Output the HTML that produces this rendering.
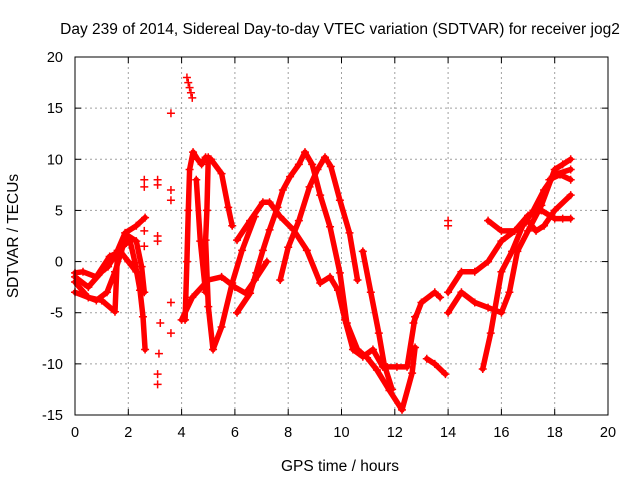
<!DOCTYPE html>
<html><head><meta charset="utf-8"><style>
body{margin:0;background:#fff}
svg{display:block;font-family:"Liberation Sans",sans-serif}
</style></head><body>
<svg id="chart" width="640" height="480">
<text x="340" y="34" text-anchor="middle" font-size="15.5">Day 239 of 2014, Sidereal Day-to-day VTEC variation (SDTVAR) for receiver jog2</text>
<text x="340" y="471" text-anchor="middle" font-size="15.5">GPS time / hours</text>
<text x="18" y="236" text-anchor="middle" font-size="15.5" transform="rotate(-90 18 236)">SDTVAR / TECUs</text>
<g id="grid"></g><g id="series"></g><g id="axes"></g>
</svg>
<script>
const xTicks=[0,2,4,6,8,10,12,14,16,18,20];
const yTicks=[-15,-10,-5,0,5,10,15,20];
const track1=[[0,-1.5],[0.5,-2.5],[1,-1],[1.24,-0.5],[1.6,1],[2.06,2.1],[2.25,-0.1],[2.44,-2.8],[2.55,-5.4],[2.63,-8.6]];
const track2=[[0,-2],[0.5,-3.5],[1,-3.8],[1.5,-4.9],[1.6,1.1],[1.88,2.8],[2.3,3.5],[2.63,4.3]];
const track3=[[0,-3],[0.5,-3.5],[0.8,-3.8],[1.2,-3],[1.5,-1],[1.8,1.5],[2,2.5],[2.3,2],[2.5,-0.5],[2.6,-3]];
const track4=[[0,-1.1],[0.3,-1],[0.8,-1.5],[1.3,0.5],[1.7,1],[2,0],[2.3,-1]];
const track5=[[4.13,-5.7],[4.2,0],[4.25,5],[4.3,9],[4.43,10.7],[4.6,10],[4.75,9.5],[4.9,10.2],[5.1,10],[5.5,8.6],[5.75,5.3],[5.9,3.5]];
const track6=[[5,10.2],[4.95,5],[4.9,2.1],[5,-4.4],[5.18,-8.6],[5.5,-6.4],[5.9,-2.1],[6.27,1.1],[6.75,4.4]];
const track7=[[4,-5.7],[4.4,-3.5],[5,-1.8],[5.5,-1.5],[6,-2.5],[6.4,-3.1],[6.75,-1.8],[7.2,0]];
const track8=[[4.55,8],[4.7,2],[4.9,-3]];
const trackA=[[6.08,-5],[6.57,-3.1],[6.8,-1.1],[7.05,1.1],[7.3,3.1],[7.6,5.3],[7.8,7],[8.07,8.3],[8.4,9.5],[8.63,10.7],[8.9,9.5],[9.2,6.5],[9.57,3.4],[9.94,-1.1],[10.2,-6],[10.6,-8.6],[10.96,-9.4],[11.33,-10.6],[11.8,-12.6],[12.27,-14.5],[12.65,-10.9],[12.76,-8.4]];
const trackB=[[7.7,-1.8],[8,1.4],[8.4,4],[8.8,7.3],[9.1,9],[9.38,10.2],[9.6,9.3],[9.94,6],[10.3,2.8],[10.6,-1.8]];
const trackC=[[10.8,1],[11.1,-3],[11.4,-7],[11.6,-10],[11.9,-12.5]];
const trackD=[[6.08,2.1],[6.57,4],[7.05,5.8],[7.3,5.8],[7.7,4.4],[8.2,3.1],[8.7,1.1],[9.2,-2.1],[9.57,-1.5],[9.87,-2.8],[10.13,-5.7],[10.43,-8.6],[10.8,-9.3],[11.18,-8.6],[11.55,-10.3],[12.08,-10.3],[12.46,-10.3],[12.76,-5.4]];
const track9=[[12.7,-6],[13,-4],[13.5,-3],[13.7,-3.5]];
const track10=[[13.2,-9.5],[13.5,-10],[13.9,-11]];
const track11=[[14,-3],[14.5,-1],[15,-1],[15.5,0],[16,2],[16.5,3],[17,4.5],[17.5,5],[18,4.2],[18.3,4.2],[18.6,4.2]];
const track12=[[14,-5],[14.5,-3],[15,-4],[15.5,-4.5],[16,-5],[16.3,-3],[16.6,1],[17,3],[17.5,5.5],[18,9],[18.3,9.5],[18.6,10]];
const track13=[[15.3,-10.5],[15.6,-7],[16,-1],[16.4,1],[16.8,3.5],[17.2,5],[17.6,7],[18,8.5],[18.6,9]];
const track14=[[15.5,4],[16,3],[16.5,3],[17,4],[17.3,3],[17.6,3.5],[18,5],[18.6,6.5]];
const track15=[[17.8,8],[18.2,8.5],[18.6,8]];
const scatter=[[2.6,8],[2.6,7.3],[2.6,3],[2.6,1.5],[3.1,8],[3.1,7.5],[3.1,2.5],[3.1,2],[3.2,-6],[3.15,-9],[3.1,-11],[3.1,-12],[3.6,14.5],[3.6,7],[3.6,6],[3.6,-4],[3.6,-7],[4.2,18],[4.25,17.5],[4.3,17],[4.4,16],[4.35,16.5],[14,4],[14,3.5]];
const tracks=[track1,track2,track3,track4,track5,track6,track7,track8,trackA,trackB,trackC,trackD,track9,track10,track11,track12,track13,track14,track15];
const L=75,R=608,T=57,B=415;
const xs=v=>L+(v-0)/(20-0)*(R-L);
const ys=v=>B-(v+15)/(35)*(B-T);
const NS="http://www.w3.org/2000/svg";
function mk(tag,attrs,parent){const e=document.createElementNS(NS,tag);for(const k in attrs)e.setAttribute(k,attrs[k]);parent.appendChild(e);return e;}
const grid=document.getElementById('grid'),axes=document.getElementById('axes'),ser=document.getElementById('series');
xTicks.forEach(t=>{const x=xs(t);
 if(t>0&&t<20){const g=mk('line',{x1:x,x2:x,y1:T,y2:B,stroke:'#a0a0a0','stroke-dasharray':'2,3','stroke-width':1},grid);}
 const l=mk('text',{x:x,y:B+22,'text-anchor':'middle','font-size':14.5},axes);l.textContent=t;
 
 mk('line',{x1:x,x2:x,y1:B,y2:B-6,stroke:'#000'},axes);mk('line',{x1:x,x2:x,y1:T,y2:T+6,stroke:'#000'},axes);});
yTicks.forEach(t=>{const y=ys(t);
 if(t>-15&&t<20){const g=mk('line',{x1:L,x2:R,y1:y,y2:y,stroke:'#a0a0a0','stroke-dasharray':'2,3','stroke-width':1},grid);}
 const l=mk('text',{x:L-12,y:y+5,'text-anchor':'end','font-size':14.5},axes);l.textContent=t;
 
 mk('line',{x1:L,x2:L+6,y1:y,y2:y,stroke:'#000'},axes);mk('line',{x1:R,x2:R-6,y1:y,y2:y,stroke:'#000'},axes);});
const fr=mk('rect',{x:L,y:T,width:R-L,height:B-T,fill:'none',stroke:'#000'},axes);

function plus(x,y){const p=mk('path',{d:`M${x-4},${y}h8M${x},${y-4}v8`,stroke:'#f00','stroke-width':1.5},ser);
 }
tracks.forEach(tr=>{
 const d=tr.map((p,i)=>(i?'L':'M')+xs(p[0]).toFixed(1)+','+ys(p[1]).toFixed(1)).join('');
 const path=mk('path',{d:d,fill:'none',stroke:'#f00','stroke-width':5.5,'stroke-linejoin':'round','stroke-linecap':'round'},ser);
 
 
 tr.forEach(p=>plus(xs(p[0]),ys(p[1])));
});
scatter.forEach(p=>plus(xs(p[0]),ys(p[1])));
</script>
</body></html>
